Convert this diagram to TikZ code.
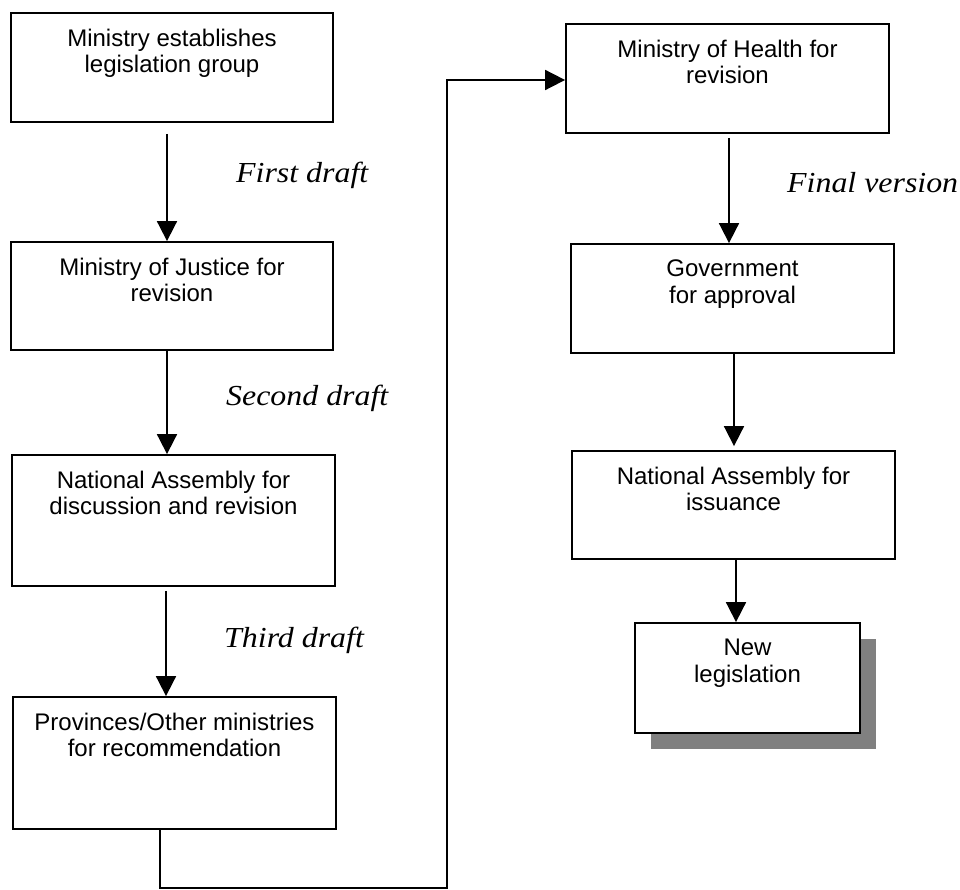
\documentclass[tikz,border=0pt]{standalone}
\usepackage{fontspec}
\setmainfont{Liberation Serif}
\setsansfont{Liberation Sans}
\newfontfamily\draftfont{Liberation Serif}[FakeStretch=1.1]
\usetikzlibrary{arrows.meta,shadows}
\definecolor{shadowgray}{RGB}{128,128,128}

\begin{document}
\begin{tikzpicture}[x=1pt,y=-1pt,
  stage/.style={draw=black, line width=1.8pt, fill=white, inner sep=0pt, minimum width=323pt},
  stagetext/.style={anchor=north, inner sep=0pt, align=center,
    font=\sffamily\fontsize{24}{26.7}\selectfont},
  draftlabel/.style={anchor=base west, inner sep=0pt,
    font=\draftfont\itshape\fontsize{29}{32}\selectfont},
  flow/.style={line width=1.8pt, -{Triangle[length=20pt,width=20pt]}},
]
\useasboundingbox (0,0) rectangle (960,890);

% left column
\node[stage, minimum width=322pt, minimum height=109pt] (b1) at (172,67.5) {};
\node[stagetext] (t1) at ([yshift=-16.5pt]b1.north) {Ministry establishes\\legislation group};

\node[stage, minimum width=322pt, minimum height=108pt] (b2) at (172,296) {};
\node[stagetext] (t2) at ([yshift=-16.5pt]b2.north) {Ministry of Justice for\\revision};

\node[stage, minimum height=131pt] (b3) at (173.5,520.5) {};
\node[stagetext] (t3) at ([yshift=-16.5pt]b3.north) {National Assembly for\\discussion and revision};

\node[stage, minimum height=132pt] (b4) at (174.5,763) {};
\node[stagetext] (t4) at ([yshift=-16.5pt]b4.north) {Provinces/Other ministries\\for recommendation};

% right column
\node[stage, minimum height=109pt] (b5) at (727.5,78.5) {};
\node[stagetext] (t5) at ([yshift=-16.5pt]b5.north) {Ministry of Health for\\revision};

\node[stage, minimum height=109pt] (b6) at (732.5,298.5) {};
\node[stagetext] (t6) at ([yshift=-16.5pt]b6.north) {Government\\for approval};

\node[stage, minimum height=108pt] (b7) at (733.5,505) {};
\node[stagetext] (t7) at ([yshift=-16.5pt]b7.north) {National Assembly for\\issuance};

\node[stage, minimum width=225pt, minimum height=110pt,
  drop shadow={shadow xshift=16pt, shadow yshift=-16pt, fill=shadowgray, opacity=1}] (b8) at (747.5,678) {};
\node[stagetext] (t8) at ([yshift=-16.5pt]b8.north) {New\\legislation};

% draft labels
\node[draftlabel] (l1) at (236,183) {First draft};
\node[draftlabel] (l2) at (226,405) {Second draft};
\node[draftlabel] (l3) at (224,647) {Third draft};
\node[draftlabel] (l4) at (787,193) {Final version};

% vertical flow arrows
\draw[flow] ([xshift=-5pt,yshift=-11pt]b1.south) -- ([xshift=-5pt]b2.north);
\draw[flow] ([xshift=-5pt]b2.south) -- ([xshift=-6.5pt]b3.north);
\draw[flow] ([xshift=-7.5pt,yshift=-4pt]b3.south) -- ([xshift=-8.5pt]b4.north);
\draw[flow] ([xshift=1.5pt,yshift=-4pt]b5.south) -- ([xshift=-3.5pt]b6.north);
\draw[flow] ([xshift=1.5pt]b6.south) -- ([xshift=0.5pt,yshift=4pt]b7.north);
\draw[flow] ([xshift=2.5pt]b7.south) -- ([xshift=-11.5pt]b8.north);

% connector from the left column to the right column
\coordinate (c1) at (160,888);
\coordinate (c2) at (447,888);
\coordinate (c3) at (447,80);
\draw[flow] (c1 |- b4.south) -- (c1) -- (c2) -- (c3) -- (c3 -| b5.west);

\end{tikzpicture}
\end{document}
